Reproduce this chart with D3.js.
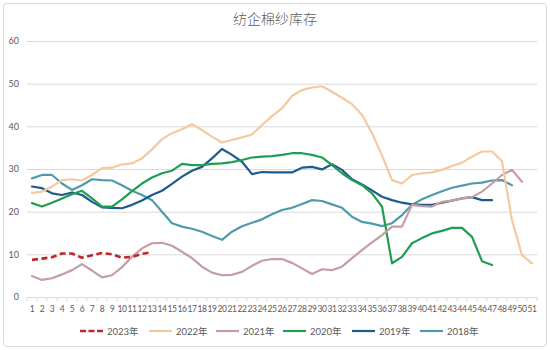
<!DOCTYPE html>
<html>
<head>
<meta charset="utf-8">
<script src="https://cdn.jsdelivr.net/npm/d3@7"></script>
<style>
  html, body { margin: 0; padding: 0; background: #fff; }
  svg { display: block; }
</style>
</head>
<body>
<svg id="chart" width="550" height="350"></svg>
<script>
// Weekly cotton-yarn inventory at spinning mills (days), by year
const weeks = d3.range(1, 52);
const yTicks = [0, 10, 20, 30, 40, 50, 60];

const y2023 = [8.7, 9.0, 9.3, 10.2, 10.2, 9.2, 9.8, 10.3, 10.0, 9.2, 9.4, 10.1, 10.5];
const y2022 = [24.4, 24.7, 25.9, 27.4, 27.6, 27.3, 28.6, 30.2, 30.3, 31.1, 31.3, 32.5, 34.6, 37.0, 38.4, 39.3, 40.5,
  39.1, 37.6, 36.2, 36.8, 37.4, 38.1, 40.3, 42.4, 44.2, 47.1, 48.5, 49.1, 49.4, 48.1, 46.7, 45.2, 42.7, 38.4,
  33.2, 27.4, 26.6, 28.6, 29.0, 29.2, 29.8, 30.7, 31.5, 32.9, 34.1, 34.1, 31.8, 18.0, 9.8, 7.9];
const y2021 = [4.9, 4.0, 4.4, 5.3, 6.3, 7.7, 6.2, 4.6, 5.1, 7.0, 9.4, 11.4, 12.6, 12.7, 12.0, 10.6, 9.1, 7.1,
  5.7, 5.1, 5.2, 5.9, 7.3, 8.5, 8.9, 8.9, 8.0, 6.7, 5.4, 6.5, 6.3, 7.1, 9.1, 11.0, 12.8, 14.5, 16.5, 16.5,
  21.6, 21.3, 21.2, 22.3, 22.6, 23.1, 23.4, 24.7, 26.6, 28.6, 29.8, 27.0];
const y2020 = [22.0, 21.2, 22.1, 23.1, 24.1, 24.9, 23.1, 21.2, 21.2, 22.9, 24.8, 26.6, 28.0, 29.0, 29.6, 31.2,
  30.9, 30.9, 31.2, 31.3, 31.6, 32.1, 32.7, 32.9, 33.0, 33.3, 33.7, 33.7, 33.3, 32.7, 30.9, 29.0, 27.4, 26.2,
  24.3, 21.2, 7.9, 9.4, 12.6, 13.8, 14.9, 15.5, 16.2, 16.2, 14.1, 8.4, 7.5];
const y2019 = [25.9, 25.5, 24.3, 23.9, 24.5, 23.9, 22.3, 21.0, 20.9, 20.8, 21.6, 22.6, 23.9, 24.9, 26.5, 28.2,
  29.6, 30.5, 32.5, 34.7, 33.3, 31.7, 28.8, 29.3, 29.2, 29.2, 29.2, 30.3, 30.5, 29.9, 31.1, 29.8, 27.6, 26.4,
  25.0, 23.5, 22.7, 22.1, 21.7, 21.6, 21.6, 22.1, 22.6, 23.1, 23.4, 22.7, 22.7];
const y2018 = [27.8, 28.6, 28.6, 26.6, 25.1, 26.2, 27.6, 27.4, 27.3, 26.2, 24.9, 23.9, 22.7, 20.0, 17.3, 16.5,
  16.0, 15.3, 14.3, 13.4, 15.3, 16.6, 17.4, 18.2, 19.4, 20.4, 20.9, 21.8, 22.7, 22.5, 21.7, 20.9, 18.8, 17.6,
  17.2, 16.6, 17.3, 19.2, 21.6, 22.9, 23.9, 24.8, 25.6, 26.1, 26.6, 26.8, 27.3, 27.4, 26.2];

const seriesNames = ["2023年", "2022年", "2021年", "2020年", "2019年", "2018年"];
const seriesValues = [y2023, y2022, y2021, y2020, y2019, y2018];
const seriesColors = ["#c0262d", "#f5c99e", "#c59ea5", "#1f9e52", "#1c5b8c", "#4f9baa"];

const svg = d3.select("#chart");
const W = 550, H = 350;
const plot = { left: 27, right: 537, top: 41, bottom: 297 };

// outer frame
svg.append("rect")
  .attr("x", 3.5).attr("y", 3.5)
  .attr("width", W - 7).attr("height", H - 7)
  .attr("rx", 3)
  .attr("fill", "#fff")
  .attr("stroke", "#d9d9d9");

// title
svg.append("text")
  .attr("x", W / 2).attr("y", 24)
  .attr("text-anchor", "middle")
  .attr("font-family", "'Noto Sans CJK SC', sans-serif")
  .attr("font-weight", 300)
  .attr("font-size", 14)
  .attr("fill", "#595959")
  .text("纺企棉纱库存");

const x = d3.scaleBand().domain(weeks).range([plot.left, plot.right]).padding(0);
const y = d3.scaleLinear().domain([0, 60]).range([plot.bottom, plot.top]);
const cx = d => x(d) + x.bandwidth() / 2;

// horizontal gridlines + y labels
const yAxis = d3.axisLeft(y).tickValues(yTicks).tickSize(-(plot.right - plot.left)).tickPadding(8);
const gy = svg.append("g").attr("transform", `translate(${plot.left},0)`).call(yAxis);
gy.select(".domain").remove();
gy.selectAll(".tick line").attr("stroke", "#d9d9d9").attr("stroke-width", 1);
gy.selectAll(".tick text")
  .attr("fill", "#595959")
  .attr("font-family", "Lato, 'Open Sans', sans-serif")
  .attr("font-size", 9);

// category axis along the zero line
const xAxis = d3.axisBottom(x).tickSize(0).tickPadding(9);
const gx = svg.append("g").attr("transform", `translate(0,${plot.bottom})`).call(xAxis);
gx.select(".domain").attr("stroke", "#d9d9d9");
gx.selectAll(".tick text")
  .attr("fill", "#595959")
  .attr("font-family", "Lato, 'Open Sans', sans-serif")
  .attr("font-size", 8.5)
  .attr("letter-spacing", -0.4);
// small tick marks between categories
gx.selectAll(".sep")
  .data(weeks.concat([52]))
  .join("line")
  .attr("class", "sep")
  .attr("x1", d => d <= 51 ? x(d) : plot.right)
  .attr("x2", d => d <= 51 ? x(d) : plot.right)
  .attr("y1", 0).attr("y2", 4)
  .attr("stroke", "#d9d9d9");

// series lines (older years first so recent years sit on top)
const line = d3.line()
  .x((d, i) => cx(weeks[i]))
  .y(d => y(d))
  .curve(d3.curveLinear);

const order = [5, 4, 3, 2, 1, 0];
order.forEach(k => {
  const p = svg.append("path")
    .datum(seriesValues[k])
    .attr("fill", "none")
    .attr("stroke", seriesColors[k])
    .attr("stroke-width", k === 0 ? 2.6 : 2.2)
    .attr("stroke-linejoin", "round")
    .attr("stroke-linecap", k === 0 ? "butt" : "round")
    .attr("d", line);
  if (k === 0) p.attr("stroke-dasharray", "6,3.5");
});

// legend
const legendX = [80, 149, 216, 283, 352, 420];
const legendY = 331;
const lg = svg.append("g");
seriesNames.forEach((name, k) => {
  const g = lg.append("g").attr("transform", `translate(${legendX[k]},${legendY})`);
  const l = g.append("line")
    .attr("x1", 0).attr("x2", 23).attr("y1", 0).attr("y2", 0)
    .attr("stroke", seriesColors[k])
    .attr("stroke-width", k === 0 ? 2.6 : 2.2);
  if (k === 0) l.attr("stroke-dasharray", "6,2.5");
  g.append("text")
    .attr("x", 27).attr("y", 3.5)
    .attr("fill", "#595959")
    .attr("font-family", "Lato, 'Noto Sans CJK SC', sans-serif")
    .attr("font-size", 9.5)
    .text(name);
});
</script>
</body>
</html>
